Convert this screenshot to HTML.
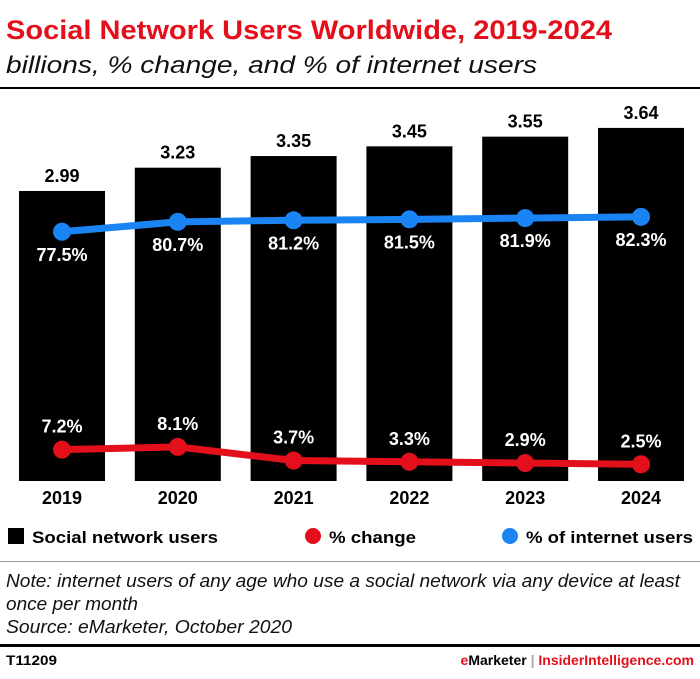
<!DOCTYPE html>
<html><head><meta charset="utf-8"><style>
body{margin:0;width:700px;height:674px;background:#fff;font-family:"Liberation Sans",sans-serif;overflow:hidden}
</style></head><body>
<svg width="700" height="674" xmlns="http://www.w3.org/2000/svg" font-family="Liberation Sans, sans-serif">
<text x="6" y="39" font-size="27" font-weight="bold" fill="#e3101b" textLength="606" lengthAdjust="spacingAndGlyphs">Social Network Users Worldwide, 2019-2024</text>
<text x="6" y="73" font-size="24" font-style="italic" fill="#111" textLength="531" lengthAdjust="spacingAndGlyphs">billions, % change, and % of internet users</text>
<rect x="0" y="87" width="700" height="2" fill="#000"/>
<g id="bars"></g><g id="lines"></g><g id="xlabels"></g>
<g>
<rect x="8" y="528" width="16" height="16" fill="#000"/>
<text x="32" y="543" font-size="17" font-weight="bold" textLength="186" lengthAdjust="spacingAndGlyphs">Social network users</text>
<circle cx="313" cy="536" r="8" fill="#e3101b"/>
<text x="329" y="543" font-size="17" font-weight="bold" textLength="87" lengthAdjust="spacingAndGlyphs">% change</text>
<circle cx="510" cy="536" r="8" fill="#1a84f5"/>
<text x="526" y="543" font-size="17" font-weight="bold" textLength="167" lengthAdjust="spacingAndGlyphs">% of internet users</text>
</g>
<rect x="0" y="561" width="700" height="1" fill="#999"/>
<text font-size="18" font-style="italic" fill="#111"><tspan x="6" y="587" textLength="674" lengthAdjust="spacingAndGlyphs">Note: internet users of any age who use a social network via any device at least</tspan><tspan x="6" y="610" textLength="132" lengthAdjust="spacingAndGlyphs">once per month</tspan><tspan x="6" y="633" textLength="286" lengthAdjust="spacingAndGlyphs">Source: eMarketer, October 2020</tspan></text>
<rect x="0" y="644" width="700" height="3" fill="#000"/>
<text x="6" y="665" font-size="14" font-weight="bold" textLength="51" lengthAdjust="spacingAndGlyphs">T11209</text>
<text x="694" y="665" font-size="14" font-weight="bold" text-anchor="end"><tspan fill="#e3101b">e</tspan><tspan fill="#000">Marketer</tspan><tspan fill="#aaa"> | </tspan><tspan fill="#e3101b">InsiderIntelligence.com</tspan></text>
</svg>
<script>
const years=["2019","2020","2021","2022","2023","2024"];
const users=[2.99,3.23,3.35,3.45,3.55,3.64];
const pctChange=[7.2,8.1,3.7,3.3,2.9,2.5];
const pctInternet=[77.5,80.7,81.2,81.5,81.9,82.3];
const NS="http://www.w3.org/2000/svg";
const base=481,barW=86,step=115.8,x0=19;
const xc=i=>x0+barW/2+i*step;
const yBar=v=>base-v*97;
const yPct=v=>472-v*3.1;
function mk(t,a,p){const e=document.createElementNS(NS,t);for(const k in a)e.setAttribute(k,a[k]);p.appendChild(e);return e;}
const gb=document.getElementById('bars'),gl=document.getElementById('lines'),gx=document.getElementById('xlabels');
users.forEach((v,i)=>{
 const r=mk('rect',{x:xc(i)-barW/2,y:yBar(v),width:barW,height:base-yBar(v),fill:'#000'},gb);
 
 
 const t=mk('text',{x:xc(i),y:yBar(v)-9,'font-size':18,'font-weight':'bold','text-anchor':'middle'},gb);t.textContent=v.toFixed(2);
 
 
 const xl=mk('text',{x:xc(i),y:504,'font-size':18,'font-weight':'bold','text-anchor':'middle'},gx);xl.textContent=years[i];
 
 
});
function series(vals,color,name,labelAbove){
 const pl=mk('polyline',{points:vals.map((v,i)=>xc(i)+','+yPct(v)).join(' '),fill:'none',stroke:color,'stroke-width':7,'stroke-linejoin':'round'},gl);
 
 
 vals.forEach((v,i)=>{
  const c=mk('circle',{cx:xc(i),cy:yPct(v),r:9,fill:color},gl);
  
  
  const t=mk('text',{x:xc(i),y:labelAbove?yPct(v)-17:yPct(v)+29,'font-size':18,'font-weight':'bold','text-anchor':'middle',fill:'#fff'},gl);
  t.textContent=v.toFixed(1)+'%';
  
  
 });
}
series(pctInternet,'#1a84f5','internet',false);
series(pctChange,'#e3101b','change',true);
</script>
</body></html>
